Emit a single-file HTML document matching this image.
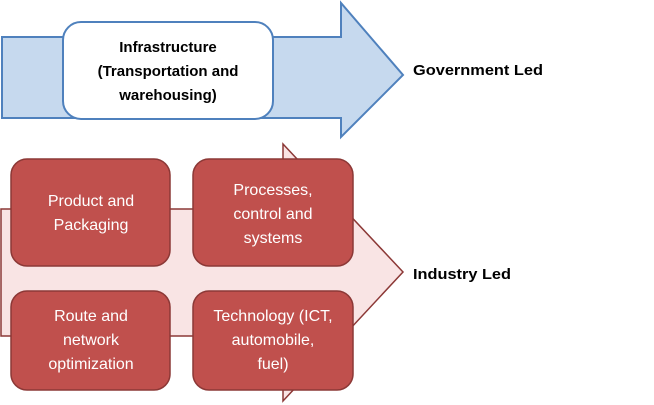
<!DOCTYPE html>
<html><head><style>
body{margin:0;background:#fff;width:654px;height:405px;overflow:hidden;font-family:"Liberation Sans",sans-serif}
svg{position:absolute;left:0;top:0}
</style></head><body>
<svg width="654" height="405" viewBox="0 0 654 405">
<polygon points="2,37 341,37 341,3 403,75 341,137 341,118 2,118" fill="#C6D9EE" stroke="#4F81BD" stroke-width="2"/>
<rect x="63" y="22" width="210" height="97" rx="18" fill="#fff" stroke="#4F81BD" stroke-width="2"/>
<g font-size="15" font-weight="bold" text-anchor="middle" fill="#000">
<text x="168" y="52">Infrastructure</text>
<text x="168" y="76">(Transportation and</text>
<text x="168" y="100">warehousing)</text>
</g>
<polygon points="1,209 283,209 283,144 403,272 283,401 283,336 1,336" fill="#F9E4E4" stroke="#8C3836" stroke-width="1.5"/>
<g fill="#C0504D" stroke="#8C3836" stroke-width="1.5">
<rect x="11" y="159" width="159" height="107" rx="16"/>
<rect x="193" y="159" width="160" height="107" rx="16"/>
<rect x="11" y="291" width="159" height="99" rx="16"/>
<rect x="193" y="291" width="160" height="99" rx="16"/>
</g>
<g font-size="16" text-anchor="middle" fill="#fff">
<text x="91" y="206">Product and</text>
<text x="91" y="230">Packaging</text>
<text x="273" y="195">Processes,</text>
<text x="273" y="219">control  and</text>
<text x="273" y="243">systems</text>
<text x="91" y="321">Route and</text>
<text x="91" y="345">network</text>
<text x="91" y="369">optimization</text>
<text x="273" y="321">Technology (ICT,</text>
<text x="273" y="345">automobile,</text>
<text x="273" y="369">fuel)</text>
</g>
<g font-size="15" font-weight="bold" fill="#000">
<text x="413" y="75" textLength="130" lengthAdjust="spacingAndGlyphs">Government Led</text>
<text x="413" y="279" textLength="98" lengthAdjust="spacingAndGlyphs">Industry Led</text>
</g>
</svg>
</body></html>
